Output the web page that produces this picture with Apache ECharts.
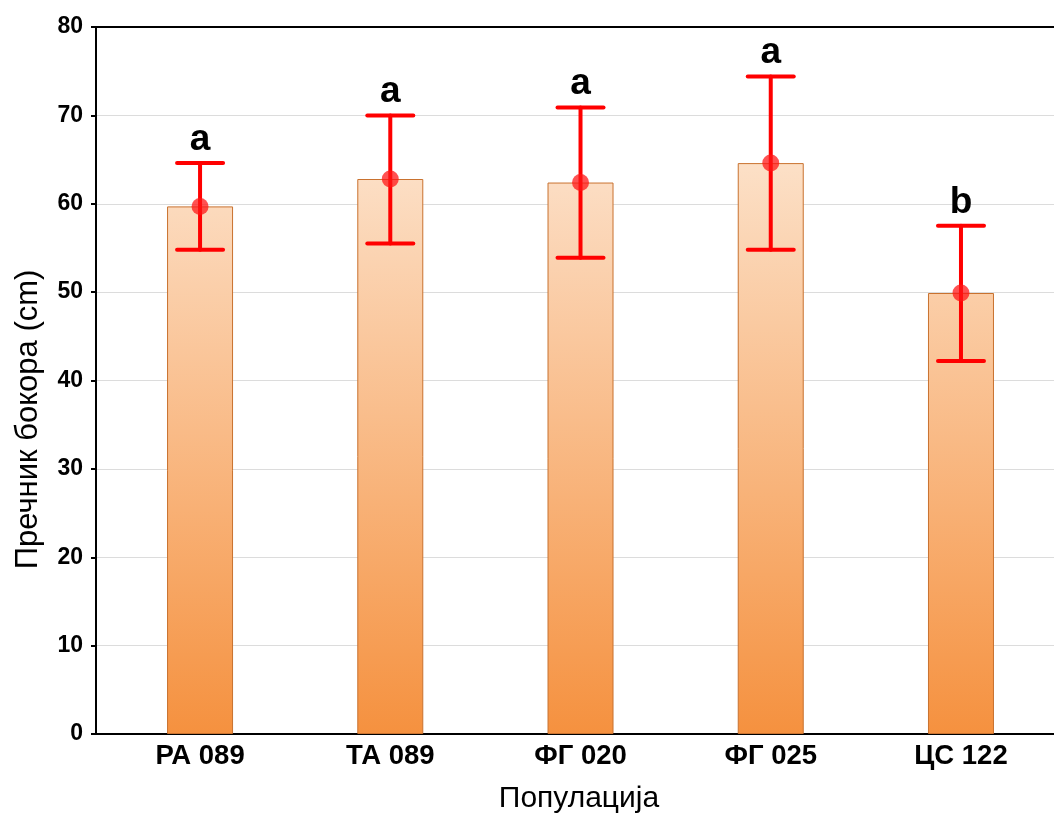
<!DOCTYPE html>
<html><head><meta charset="utf-8">
<script src="https://cdn.jsdelivr.net/npm/echarts@6/dist/echarts.min.js"></script>
<style>html,body{margin:0;padding:0;background:#fff}#c{width:1054px;height:820px}</style>
</head><body><div id="c"></div>
<script>
const categories = ['РА 089', 'ТА 089', 'ФГ 020', 'ФГ 025', 'ЦС 122'];
const means = [59.7, 62.8, 62.4, 64.6, 49.9];
const upper = [64.6, 70.0, 70.9, 74.4, 57.5];
const lower = [54.8, 55.5, 53.9, 54.8, 42.2];
const letters = ['a', 'a', 'a', 'a', 'b'];
const yMin = 0, yMax = 80, yStep = 10;
const xName = 'Популација';
const yName = 'Пречник бокора (cm)';

const FONT = '"Liberation Sans", Arial, Helvetica, sans-serif';
const C_BOTTOM = [245, 145, 63];
const C_TOP = [254, 243, 232];
function rgb(c) { return 'rgb(' + c.map(Math.round).join(',') + ')'; }
function lerp(a, b, t) { return a.map((v, i) => v + (b[i] - v) * t); }
function barColor(v) {
  const top = lerp(C_BOTTOM, C_TOP, (v - yMin) / (yMax - yMin));
  return new echarts.graphic.LinearGradient(0, 0, 0, 1, [
    { offset: 0, color: rgb(top) },
    { offset: 1, color: rgb(C_BOTTOM) }
  ]);
}

const xMin = -0.547, xMax = 4.489;
const chart = echarts.init(document.getElementById('c'), null, { renderer: 'canvas' });
const option = {
  animation: false,
  backgroundColor: '#fff',
  grid: { left: 96, right: 0, top: 27, bottom: 86 },
  xAxis: [{
    type: 'value', min: xMin, max: xMax,
    axisLine: { show: true, onZero: false, lineStyle: { color: '#000', width: 2 } },
    axisTick: { show: false },
    splitLine: { show: false },
    axisLabel: {
      customValues: categories.map((c, i) => i),
      formatter: v => categories[Math.round(v)],
      fontSize: 27.5, fontWeight: 'bold', color: '#000', margin: 8, fontFamily: FONT
    },
    name: xName, nameLocation: 'middle', nameGap: 50,
    nameTextStyle: { fontSize: 30, color: '#000', fontFamily: FONT, padding: [0, 0, 0, 8] }
  }, {
    type: 'value', position: 'top', min: xMin, max: xMax,
    axisLine: { show: true, onZero: false, lineStyle: { color: '#000', width: 2 } },
    axisTick: { show: false }, axisLabel: { show: false }, splitLine: { show: false }
  }],
  yAxis: {
    type: 'value', min: yMin, max: yMax, interval: yStep,
    axisLine: { show: true, onZero: false, lineStyle: { color: '#000', width: 2 } },
    axisTick: { show: true, length: 5, lineStyle: { color: '#000', width: 2 } },
    axisLabel: { fontSize: 23, fontWeight: 'bold', color: '#000', margin: 13, fontFamily: FONT },
    splitLine: { show: true, lineStyle: { color: '#dcdcdc', width: 1 } },
    name: yName, nameLocation: 'middle', nameGap: 52,
    nameTextStyle: { fontSize: 31, color: '#000', fontFamily: FONT, padding: [0, 78, 0, 0] }
  },
  series: [{
    type: 'bar', xAxisIndex: 0, barWidth: 66,
    data: means.map((v, i) => ({ value: [i, v], itemStyle: { color: barColor(v) } })),
    itemStyle: { borderColor: '#C9722F', borderWidth: 1 },
    z: 2
  }, {
    type: 'custom', xAxisIndex: 0, z: 3,
    data: means.map((v, i) => [i, lower[i], upper[i]]),
    renderItem: function (params, api) {
      const x = api.value(0);
      const hi = api.coord([x, api.value(2)]);
      const lo = api.coord([x, api.value(1)]);
      const half = 23;
      const st = { stroke: '#FF0000', lineWidth: 4, lineCap: 'round' };
      return {
        type: 'group', children: [
          { type: 'line', shape: { x1: hi[0], y1: hi[1], x2: lo[0], y2: lo[1] }, style: st },
          { type: 'line', shape: { x1: hi[0] - half, y1: hi[1], x2: hi[0] + half, y2: hi[1] }, style: st },
          { type: 'line', shape: { x1: lo[0] - half, y1: lo[1], x2: lo[0] + half, y2: lo[1] }, style: st },
          { type: 'text', style: { text: letters[params.dataIndex], x: hi[0], y: hi[1] - 5,
              align: 'center', verticalAlign: 'bottom', font: 'bold 37px ' + FONT, fill: '#000' } }
        ]
      };
    }
  }, {
    type: 'scatter', xAxisIndex: 0, z: 4,
    data: means.map((v, i) => [i, v]),
    symbol: 'circle', symbolSize: 17,
    itemStyle: { color: 'rgba(255,20,20,0.92)' }
  }]
};
chart.setOption(option);
</script>
</body></html>
